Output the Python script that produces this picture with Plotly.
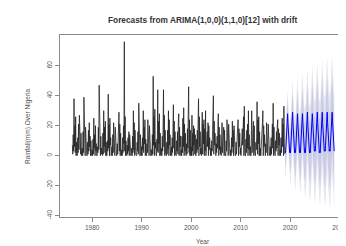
import plotly.graph_objects as go

# ---------------- data ----------------
start_year = 1976
rain = [
    [7, 1, 14, 3, 38, 6, 20, 2, 26, 0, 9, 1],      # 1976
    [0, 12, 2, 21, 4, 27, 8, 18, 1, 15, 0, 3],     # 1977
    [5, 0, 16, 2, 39, 7, 24, 0, 19, 4, 11, 0],     # 1978
    [0, 9, 1, 17, 3, 22, 6, 13, 0, 10, 2, 0],      # 1979
    [4, 0, 11, 1, 25, 5, 14, 0, 20, 3, 8, 0],      # 1980
    [0, 6, 2, 19, 4, 47, 9, 22, 0, 13, 1, 5],      # 1981
    [3, 0, 15, 1, 30, 6, 19, 2, 23, 0, 9, 0],      # 1982
    [0, 10, 3, 41, 5, 21, 0, 25, 7, 12, 0, 2],     # 1983
    [6, 0, 14, 2, 22, 4, 17, 0, 19, 5, 1, 0],      # 1984
    [0, 8, 1, 18, 6, 29, 3, 21, 0, 15, 2, 0],      # 1985
    [4, 0, 12, 2, 20, 8, 76, 3, 26, 0, 10, 1],     # 1986
    [0, 7, 1, 12, 3, 16, 0, 14, 5, 11, 0, 2],      # 1987
    [5, 0, 13, 2, 30, 4, 22, 0, 17, 6, 1, 0],      # 1988
    [0, 9, 3, 16, 1, 35, 7, 24, 0, 14, 2, 0],      # 1989
    [6, 0, 12, 4, 30, 2, 19, 8, 24, 0, 11, 1],     # 1990
    [0, 8, 2, 24, 5, 17, 0, 20, 3, 12, 0, 1],      # 1991
    [4, 0, 14, 1, 53, 7, 26, 0, 31, 5, 9, 0],      # 1992
    [0, 11, 3, 44, 2, 23, 8, 28, 0, 15, 1, 0],     # 1993
    [5, 0, 13, 3, 19, 44, 6, 27, 0, 17, 2, 0],     # 1994
    [0, 9, 1, 17, 4, 30, 0, 24, 7, 14, 0, 2],      # 1995
    [6, 0, 12, 2, 18, 34, 5, 23, 0, 16, 1, 0],     # 1996
    [0, 10, 3, 16, 1, 22, 28, 0, 19, 6, 13, 0],    # 1997
    [4, 0, 13, 2, 25, 6, 32, 0, 21, 3, 15, 1],     # 1998
    [0, 8, 1, 18, 5, 27, 46, 2, 24, 0, 17, 0],     # 1999
    [6, 0, 27, 3, 15, 0, 20, 7, 18, 1, 14, 0],     # 2000
    [0, 11, 2, 17, 4, 24, 38, 0, 26, 6, 16, 1],    # 2001
    [5, 0, 14, 29, 1, 21, 8, 24, 0, 18, 3, 30],    # 2002
    [0, 9, 2, 16, 6, 22, 0, 20, 4, 12, 1, 0],      # 2003
    [5, 0, 10, 3, 17, 26, 40, 1, 23, 7, 15, 0],    # 2004
    [0, 8, 2, 13, 5, 21, 28, 0, 19, 4, 14, 1],     # 2005
    [6, 0, 11, 22, 2, 16, 7, 19, 0, 17, 3, 0],     # 2006
    [0, 10, 3, 24, 5, 15, 0, 21, 8, 18, 1, 0],     # 2007
    [4, 0, 12, 2, 23, 6, 17, 0, 20, 9, 14, 0],     # 2008
    [0, 9, 1, 16, 4, 20, 24, 0, 18, 6, 15, 1],     # 2009
    [5, 0, 13, 3, 18, 7, 22, 26, 0, 33, 8, 0],     # 2010
    [0, 11, 2, 17, 5, 21, 0, 30, 4, 14, 1, 0],     # 2011
    [6, 0, 12, 30, 2, 19, 7, 23, 0, 20, 3, 0],     # 2012
    [0, 9, 4, 13, 36, 1, 24, 8, 26, 0, 16, 0],     # 2013
    [5, 0, 11, 3, 17, 22, 30, 0, 20, 6, 14, 1],    # 2014
    [0, 8, 2, 22, 4, 16, 0, 21, 7, 17, 1, 0],      # 2015
    [6, 0, 12, 1, 17, 21, 5, 35, 0, 19, 3, 0],     # 2016
    [0, 10, 3, 16, 5, 20, 24, 0, 18, 7, 15, 0],    # 2017
    [4, 0, 12, 2, 18, 25, 6, 21, 0, 33, 9, 1],     # 2018
]

fc_start_year = 2019
fc_mean = [
    [3, 2, 6, 11, 15, 18, 28, 21, 16, 11, 4, 2],   # 2019
    [3, 2, 6, 12, 15, 19, 29, 22, 16, 11, 4, 2],   # 2020
    [3, 2, 6, 11, 16, 19, 28, 21, 17, 11, 4, 2],   # 2021
    [3, 2, 7, 12, 15, 19, 28, 22, 16, 12, 4, 2],   # 2022
    [4, 2, 6, 12, 16, 19, 29, 21, 16, 11, 4, 2],   # 2023
    [3, 2, 6, 12, 16, 20, 28, 22, 17, 11, 4, 3],   # 2024
    [4, 3, 7, 12, 16, 19, 29, 22, 16, 12, 5, 2],   # 2025
    [3, 2, 7, 12, 16, 20, 29, 22, 17, 12, 4, 3],   # 2026
    [4, 3, 7, 13, 16, 20, 29, 22, 17, 12, 5, 3],   # 2027
    [4, 3, 7, 12, 17, 20, 29, 23, 17, 12, 5, 3],   # 2028
]
hw95 = [16, 22, 25, 28, 30, 32, 34, 35, 37, 38]   # 95% half-width per forecast year
hw80 = [10, 14, 16, 18, 19, 21, 22, 23, 24, 25]   # 80% half-width per forecast year

title_text = "Forecasts from ARIMA(1,0,0)(1,1,0)[12] with drift"
y_title = "Rainfall(mm) Over Nigeria"
x_title = "Year"
x_ticks = [1980, 1990, 2000, 2010, 2020, 2030]
y_ticks = [-40, -20, 0, 20, 40, 60]

# ---------------- build series ----------------
hx, hy = [], []
for i, row in enumerate(rain):
    for m, v in enumerate(row):
        hx.append(start_year + i + m / 12)
        hy.append(v)

fx, fy, u95, l95, u80, l80 = [], [], [], [], [], []
for i, row in enumerate(fc_mean):
    for m, v in enumerate(row):
        fx.append(fc_start_year + i + m / 12)
        fy.append(v)
        u95.append(v + hw95[i]); l95.append(v - hw95[i])
        u80.append(v + hw80[i]); l80.append(v - hw80[i])

fig = go.Figure()
fig.add_trace(go.Scatter(x=fx, y=u95, mode="lines", line=dict(width=0), showlegend=False, hoverinfo="skip"))
fig.add_trace(go.Scatter(x=fx, y=l95, mode="lines", line=dict(width=0), fill="tonexty",
                         fillcolor="#E5E6EF", showlegend=False, hoverinfo="skip"))
fig.add_trace(go.Scatter(x=fx, y=u80, mode="lines", line=dict(width=0), showlegend=False, hoverinfo="skip"))
fig.add_trace(go.Scatter(x=fx, y=l80, mode="lines", line=dict(width=0), fill="tonexty",
                         fillcolor="#CACDE4", showlegend=False, hoverinfo="skip"))
fig.add_trace(go.Scatter(x=hx, y=hy, mode="lines", line=dict(color="#222222", width=0.8), showlegend=False))
fig.add_trace(go.Scatter(x=fx, y=fy, mode="lines", line=dict(color="#0000FF", width=1), showlegend=False))

font_family = "Liberation Sans, Arial, sans-serif"
axis_common = dict(showgrid=False, zeroline=False, showline=True, mirror=True, automargin=False,
                   linecolor="#8a8a8a", linewidth=1, ticks="outside", ticklen=4,
                   tickcolor="#8a8a8a", ticklabeloverflow="allow",
                   tickfont=dict(size=6.5, color="#555555", family=font_family))

# The page body adds an 8 px offset, so the figure is sized and placed to compensate.
fig.update_layout(
    width=338, height=238,
    margin=dict(l=52, r=1, t=27, b=29),
    paper_bgcolor="white", plot_bgcolor="white",
    xaxis=dict(range=[1973.5, 2031.1], tickvals=x_ticks, ticktext=[str(t) for t in x_ticks], **axis_common),
    yaxis=dict(range=[-40.9, 80.5], tickvals=y_ticks, ticktext=[str(t) for t in y_ticks], tickangle=-90, **axis_common),
    annotations=[
        dict(text="<b>" + title_text + "</b>", xref="paper", yref="paper", x=(202 - 60) / 285,
             y=(217 - 20) / 182, showarrow=False, xanchor="center", yanchor="middle",
             font=dict(size=8.3, color="#333333", family=font_family)),
        dict(text=y_title, xref="paper", yref="paper", x=(28 - 60) / 285, y=(217 - 126) / 182, textangle=-90,
             showarrow=False, xanchor="center", yanchor="middle",
             font=dict(size=6.5, color="#555555", family=font_family)),
        dict(text=x_title, xref="paper", yref="paper", x=0.5, y=(217 - 241) / 182,
             showarrow=False, xanchor="center", yanchor="middle",
             font=dict(size=6.5, color="#555555", family=font_family)),
    ],
)

fig.write_html("out.html")
